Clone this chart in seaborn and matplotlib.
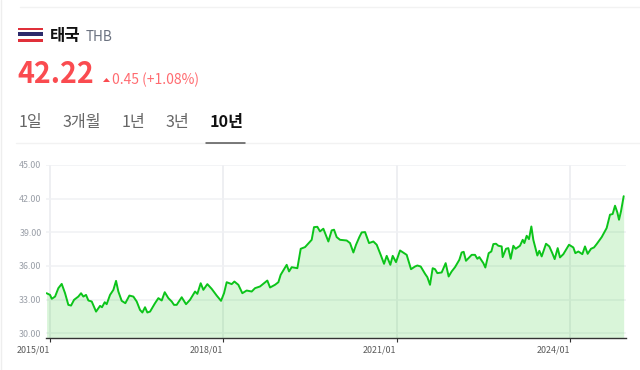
import matplotlib
matplotlib.use('Agg')
import matplotlib.pyplot as plt
import seaborn as sns
from matplotlib.patches import Rectangle, Polygon
from matplotlib.lines import Line2D

# Exchange rate (decimal year, KRW per THB)
years = [
    2014.94, 2015.00, 2015.03, 2015.087, 2015.144, 2015.202, 2015.26, 2015.317, 2015.364, 2015.416,
    2015.49, 2015.537, 2015.577, 2015.623, 2015.664, 2015.722, 2015.797, 2015.866, 2015.90, 2015.947,
    2015.981, 2016.039, 2016.097, 2016.143, 2016.183, 2016.241, 2016.304, 2016.374, 2016.443, 2016.501,
    2016.558, 2016.599, 2016.645, 2016.685, 2016.732, 2016.818, 2016.876, 2016.934, 2016.986, 2017.049,
    2017.107, 2017.147, 2017.193, 2017.28, 2017.355, 2017.424, 2017.511, 2017.551, 2017.609, 2017.655,
    2017.724, 2017.799, 2017.886, 2017.961, 2018.013, 2018.059, 2018.146, 2018.192, 2018.261, 2018.33,
    2018.405, 2018.492, 2018.55, 2018.636, 2018.763, 2018.81, 2018.896, 2018.954, 2018.994, 2019.098,
    2019.139, 2019.185, 2019.283, 2019.341, 2019.416, 2019.479, 2019.531, 2019.571, 2019.629, 2019.675,
    2019.733, 2019.82, 2019.877, 2019.918, 2019.964, 2020.022, 2020.137, 2020.195, 2020.253, 2020.299,
    2020.356, 2020.397, 2020.455, 2020.524, 2020.599, 2020.657, 2020.726, 2020.784, 2020.83, 2020.893,
    2020.934, 2020.991, 2021.061, 2021.176, 2021.251, 2021.32, 2021.361, 2021.419, 2021.494, 2021.534,
    2021.58, 2021.626, 2021.667, 2021.707, 2021.782, 2021.851, 2021.903, 2021.955, 2022.013, 2022.088,
    2022.128, 2022.163, 2022.203, 2022.302, 2022.359, 2022.40, 2022.434, 2022.504, 2022.538, 2022.596,
    2022.642, 2022.677, 2022.723, 2022.763, 2022.821, 2022.838, 2022.896, 2022.936, 2022.977, 2023.023,
    2023.063, 2023.138, 2023.185, 2023.214, 2023.254, 2023.294, 2023.335, 2023.369, 2023.439, 2023.473,
    2023.514, 2023.589, 2023.646, 2023.698, 2023.739, 2023.791, 2023.831, 2023.889, 2023.987, 2024.062,
    2024.097, 2024.149, 2024.218, 2024.264, 2024.31, 2024.368, 2024.42, 2024.466, 2024.553, 2024.639,
    2024.697, 2024.743, 2024.784, 2024.824, 2024.853, 2024.887, 2024.934,
]
rates = [
    33.57, 33.42, 33.07, 33.27, 34.02, 34.40, 33.57, 32.53, 32.47, 32.98,
    33.27, 33.57, 33.27, 33.42, 32.92, 32.83, 31.93, 32.44, 32.32, 32.77,
    32.59, 33.42, 33.87, 34.67, 33.72, 32.89, 32.68, 33.36, 33.27, 32.83,
    32.08, 31.85, 32.32, 31.85, 31.93, 32.68, 33.13, 32.92, 33.66, 33.13,
    32.83, 32.53, 32.53, 33.21, 32.59, 32.98, 33.72, 33.51, 34.46, 33.87,
    34.38, 33.96, 33.36, 32.89, 33.57, 34.55, 34.38, 34.61, 34.32, 33.57,
    33.81, 33.72, 34.02, 34.17, 34.70, 34.08, 34.32, 34.55, 35.21, 36.10,
    35.51, 35.89, 35.80, 37.53, 37.68, 38.04, 38.33, 39.46, 39.49, 39.08,
    39.32, 38.18, 39.17, 39.23, 38.57, 38.33, 38.27, 38.04, 37.20, 37.89,
    38.57, 38.99, 39.02, 38.04, 38.18, 37.89, 36.99, 36.19, 36.90, 36.10,
    36.90, 36.34, 37.38, 36.99, 35.71, 35.95, 36.04, 35.95, 35.30, 35.00,
    34.32, 35.80, 35.71, 35.36, 35.42, 36.25, 35.06, 35.51, 35.89, 36.55,
    37.20, 37.26, 36.46, 36.99, 36.99, 36.64, 36.79, 36.25, 35.86, 37.14,
    37.29, 37.95, 37.98, 37.80, 37.74, 36.79, 37.53, 37.59, 36.64, 37.80,
    37.53, 37.80, 38.33, 38.04, 38.69, 38.39, 39.52, 38.33, 36.93, 37.35,
    36.85, 37.98, 37.74, 37.14, 36.61, 37.59, 36.76, 37.05, 37.89, 37.65,
    37.14, 37.29, 37.05, 37.74, 37.08, 37.53, 37.65, 37.95, 38.57, 39.38,
    40.57, 40.63, 41.37, 40.77, 40.12, 40.86, 42.22,
]

x_ticks = [2015, 2018, 2021, 2024]
x_labels = ['2015/01', '2018/01', '2021/01', '2024/01']
y_ticks = [30, 33, 36, 39, 42, 45]
y_labels = ['30.00', '33.00', '36.00', '39.00', '42.00', '45.00']
tabs = ['1일', '3개월', '1년', '3년', '10년']
tab_pos = [19, 63, 122, 166, 210]

W, H = 640, 370

sns.set_style('white')
plt.rcParams['font.family'] = ['Noto Sans CJK KR', 'DejaVu Sans']

fig = plt.figure(figsize=(W / 100, H / 100), dpi=100)
ax = fig.add_axes([46 / W, 1 - 338.3 / H, 580 / W, 173.3 / H])


def label(px, py, s, **kw):
    fig.text(px / W, 1 - py / H, s, va='center', **kw)


def hline(x0, x1, y, color, lw):
    fig.add_artist(Line2D([x0 / W, x1 / W], [1 - y / H, 1 - y / H], color=color, lw=lw))


# Chart
ax.fill_between(years, rates, 29, color='#00c000', alpha=0.15, lw=0, zorder=2)
sns.lineplot(x=years, y=rates, ax=ax, color='#0cc41a', lw=1.4, estimator=None, zorder=3)

ax.set_xlim(2014.93, 2024.974)
ax.set_ylim(29.55, 45)
ax.set_xticks(x_ticks)
ax.set_xticklabels(x_labels, ha='right', fontsize=6.4, color='#5a5a5a')
ax.set_yticks(y_ticks)
ax.set_yticklabels(y_labels, fontsize=6.4, color='#9a9fa8')
ax.tick_params(axis='x', length=3, width=0.8, color='#333333', pad=2, bottom=True)
ax.tick_params(axis='y', length=0, pad=3.2)
ax.grid(True, axis='y', color='#f0f1f4', lw=1.1, zorder=1)
ax.grid(True, axis='x', color='#eaebef', lw=1.1, zorder=1)
ax.set_axisbelow(True)
sns.despine(ax=ax, left=True, right=True, top=True)
ax.spines['bottom'].set_color('#333333')
ax.spines['bottom'].set_linewidth(1)

# Header
hline(20, 640, 7, '#f2f2f2', 1)
fig.add_artist(Line2D([0.6 / W, 0.6 / W], [0, 1], color='#eeeeee', lw=1))

# Thai flag
for y0, h, c in [(28, 2, '#e0303a'), (30, 2, '#ffffff'), (32, 4, '#2b2a6b'), (36, 3, '#ffffff'), (39, 3, '#e0303a')]:
    fig.add_artist(Rectangle((18 / W, 1 - (y0 + h) / H), 25 / W, h / H, color=c, lw=0,
                             transform=fig.transFigure))

label(50, 36, '태국', fontsize=12, fontweight='bold', color='#111111')
label(86, 37, 'THB', fontsize=9.8, color='#6b7280')
label(17, 74, '42.22', fontsize=20.6, fontweight='bold', color='#fa4b50')
fig.add_artist(Polygon([(103 / W, 1 - 82 / H), (110 / W, 1 - 82 / H), (106.5 / W, 1 - 78 / H)],
                       color='#fa4b50', lw=0, transform=fig.transFigure))
label(112, 79.5, '0.45 (+1.08%)', fontsize=10, color='#ff6b70')

# Period tabs
for name, px in zip(tabs, tab_pos):
    bold = name == '10년'
    label(px, 122, name, fontsize=11.6, fontweight='bold' if bold else 'normal',
          color='#111111' if bold else '#666666')
hline(16, 640, 143, '#f2f2f2', 1)
hline(206, 245, 143, '#555555', 1.1)

plt.savefig('out.png', dpi=100)
plt.close()
